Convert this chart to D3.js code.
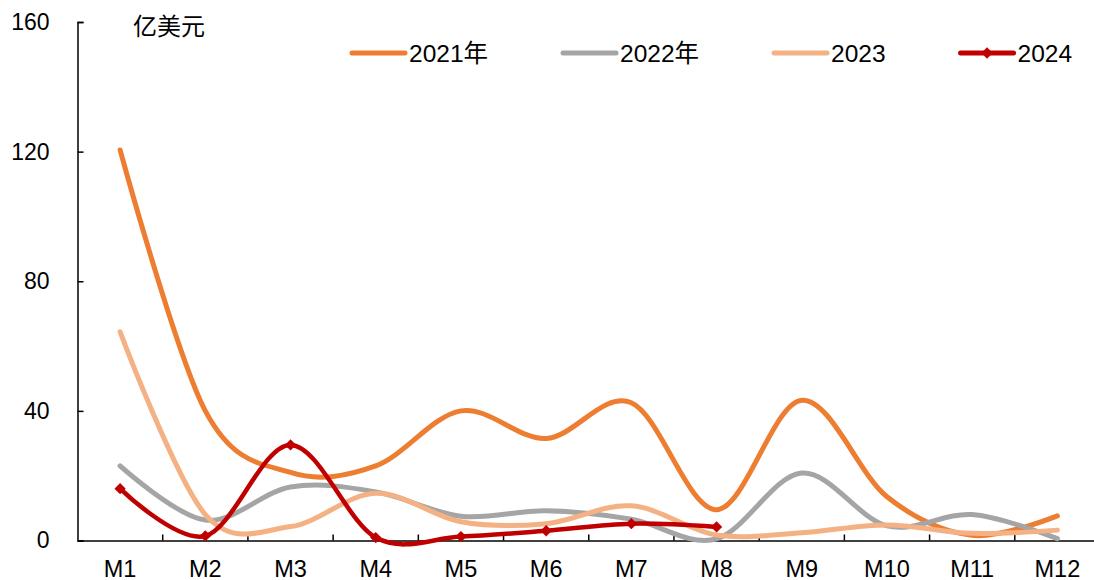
<!DOCTYPE html>
<html>
<head>
<meta charset="utf-8">
<script src="https://cdn.jsdelivr.net/npm/d3@7"></script>
<style>
  body { margin: 0; background: #fff; }
  svg text { font-family: "Liberation Sans", Arial, "Noto Sans CJK SC", sans-serif; fill: #000; }
</style>
</head>
<body>
<svg id="chart" width="1094" height="580"></svg>
<script>
var months = ["M1","M2","M3","M4","M5","M6","M7","M8","M9","M10","M11","M12"]
var yTicks = [0, 40, 80, 120, 160]
var unitLabel = "亿美元"

var seriesNames = ["2021年", "2022年", "2023", "2024"]
var v2021 = [120.5, 40, 21, 23, 40, 31.5, 42.5, 9.5, 43.3, 13.5, 1.6, 7.6]
var v2022 = [23, 6.3, 16.5, 15, 7.5, 9.2, 6.6, 0.5, 20.8, 4.5, 8, 0.6]
var v2023 = [64.4, 8, 4.3, 14.6, 5.8, 5.2, 10.7, 1.7, 2.4, 4.8, 2.2, 3.2]
var v2024 = [16, 1.4, 29.5, 0.9, 1.2, 3, 5.2, 4.2]

var colors = ["#ED7D31", "#A5A5A5", "#F4B183", "#C00000"]

var series = [v2021, v2022, v2023, v2024].map(function(vals, i) {
    return {
        name: seriesNames[i],
        color: colors[i],
        marker: i === 3,
        values: vals.map(function(v, j) { return {m: months[j], v: v} })
    }
})

var svg = d3.select("#chart")

var x = d3.scaleBand()
    .domain(months)
    .range([77.5, 1100])
    .padding(0)

var y = d3.scaleLinear()
    .domain([0, 160])
    .range([540.5, 22])

// y axis, ticks pointing inward
var yAxis = svg.append("g")
    .attr("transform", "translate(77.5,0)")
    .call(d3.axisLeft(y).tickValues(yTicks).tickSize(-6).tickPadding(28))
yAxis.select(".domain").attr("stroke", "#000").attr("stroke-width", 1.5)
yAxis.selectAll(".tick line").attr("stroke", "#000").attr("stroke-width", 1.5)
yAxis.selectAll(".tick text").style("font-size", "23px")

// x axis: labels centered, tick marks on band boundaries pointing up
var xAxis = svg.append("g")
    .attr("transform", "translate(0," + y(0) + ")")
    .call(d3.axisBottom(x).tickSize(0).tickPadding(20))
xAxis.select(".domain").attr("stroke", "#000").attr("stroke-width", 1.5)
xAxis.selectAll(".tick text").style("font-size", "23.5px")

xAxis.selectAll(".bound")
    .data(months.slice(1))
    .enter()
    .append("line")
    .attr("x1", function(d) { return x(d) })
    .attr("x2", function(d) { return x(d) })
    .attr("y1", 0)
    .attr("y2", -6)
    .attr("stroke", "#000")
    .attr("stroke-width", 1.5)

svg.append("text")
    .attr("x", 133)
    .attr("y", 35)
    .style("font-size", "24px")
    .text(unitLabel)

var line = d3.line()
    .x(function(d) { return x(d.m) + x.bandwidth() / 2 })
    .y(function(d) { return y(d.v) })
    .curve(d3.curveCatmullRom.alpha(0))

var diamond = d3.symbol().type(d3.symbolSquare).size(64)

series.forEach(function(s) {
    svg.append("path")
        .datum(s.values)
        .attr("d", line)
        .attr("fill", "none")
        .attr("stroke", s.color)
        .attr("stroke-width", s.marker ? 4.5 : 5)
        .attr("stroke-linecap", "round")
        .attr("stroke-linejoin", "round")

    if (s.marker) {
        svg.selectAll(".mk")
            .data(s.values)
            .enter()
            .append("path")
            .attr("d", diamond)
            .attr("transform", function(d) {
                return "translate(" + (x(d.m) + x.bandwidth() / 2) + "," + y(d.v) + ") rotate(45)"
            })
            .attr("fill", s.color)
    }
})

// legend
var lx = 352
series.forEach(function(s) {
    var g = svg.append("g").attr("transform", "translate(" + lx + ",53)")
    g.append("line")
        .attr("x1", 0).attr("x2", 53)
        .attr("stroke", s.color)
        .attr("stroke-width", 5)
        .attr("stroke-linecap", "round")
    if (s.marker) {
        g.append("path")
            .attr("d", diamond)
            .attr("transform", "translate(26.5,0) rotate(45)")
            .attr("fill", s.color)
    }
    var t = g.append("text")
        .attr("x", 57)
        .attr("dy", "0.35em")
        .style("font-size", "24.5px")
        .text(s.name)
    lx += 57 + t.node().getComputedTextLength() + 75
})
</script>
</body>
</html>
